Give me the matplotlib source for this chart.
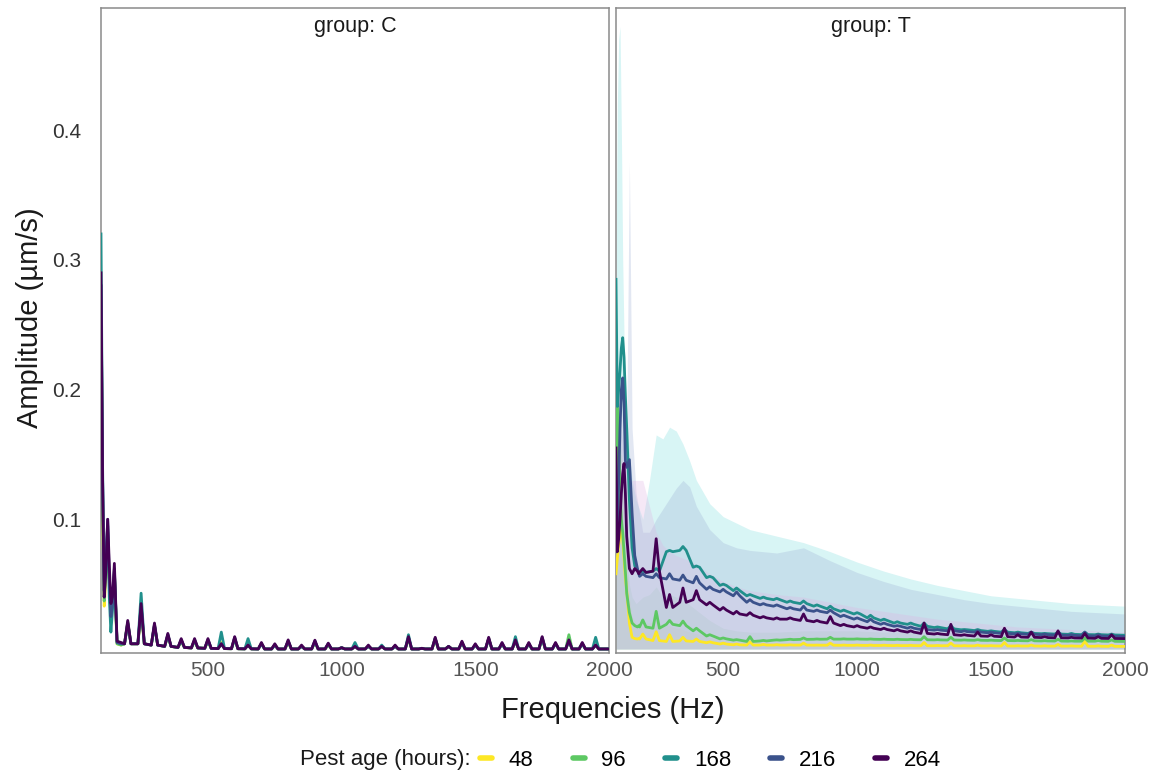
import matplotlib
matplotlib.use("Agg")
import matplotlib.pyplot as plt
from matplotlib.lines import Line2D

plt.rcParams["font.family"] = ["Liberation Sans", "DejaVu Sans"]

AGES = ["48", "96", "168", "216", "264"]
COLORS = ["#FDE725", "#5DC863", "#21908C", "#3B528B", "#440154"]
RIBBON_COLORS = ["#f5e98a", "#a8e6aa", "#7fdede", "#9fb0d6", "#e0b4e4"]

# harmonic peaks every 50 Hz
PEAK_HZ = list(range(200, 2000, 50))
PEAK_HALF_WIDTH = 12

# ---- group C -------------------------------------------------------------
C_LOW_HZ = [100, 106, 112, 118, 125, 131, 137, 143, 150, 160, 175]
C_LOW = {
    "48": [0.270, 0.110, 0.033, 0.055, 0.085, 0.050, 0.030, 0.035, 0.058, 0.004, 0.003],
    "96": [0.280, 0.120, 0.037, 0.060, 0.090, 0.055, 0.030, 0.035, 0.060, 0.004, 0.003],
    "168": [0.320, 0.140, 0.045, 0.070, 0.095, 0.040, 0.013, 0.030, 0.060, 0.005, 0.004],
    "216": [0.280, 0.130, 0.040, 0.065, 0.100, 0.055, 0.025, 0.035, 0.062, 0.005, 0.004],
    "264": [0.290, 0.130, 0.040, 0.060, 0.100, 0.065, 0.035, 0.040, 0.066, 0.006, 0.005],
}
C_FLOOR = [0.004, 0.004, 0.003, 0.002, 0.0012, 0.0008, 0.0005, 0.0003, 0.0002,
           0.0001, 0, 0, 0, 0, 0, 0, 0, 0, 0, 0, 0, 0, 0, 0, 0, 0, 0, 0, 0, 0,
           0, 0, 0, 0, 0, 0]
C_PEAKS = {
    "48": [0.020, 0.030, 0.018, 0.010, 0.006, 0.006, 0.006, 0.005, 0.008,
           0.003, 0.004, 0.003, 0.005, 0.002, 0.005, 0.003, 0.001,
           0.002, 0.002, 0.002, 0.002, 0.008, 0.0005, 0.007, 0.002, 0.005, 0.003,
           0.008, 0.004, 0.006, 0.004, 0.008, 0.004, 0.006, 0.004, 0.003],
    "96": [0.021, 0.030, 0.018, 0.010, 0.006, 0.006, 0.006, 0.004, 0.008,
           0.003, 0.004, 0.003, 0.006, 0.002, 0.005, 0.003, 0.001,
           0.002, 0.002, 0.002, 0.002, 0.008, 0.0005, 0.008, 0.002, 0.005, 0.003,
           0.008, 0.004, 0.006, 0.004, 0.008, 0.004, 0.011, 0.004, 0.003],
    "168": [0.020, 0.043, 0.018, 0.011, 0.007, 0.007, 0.007, 0.013, 0.008,
            0.008, 0.004, 0.003, 0.006, 0.002, 0.006, 0.004, 0.001,
            0.005, 0.002, 0.003, 0.002, 0.011, 0.0005, 0.008, 0.002, 0.005, 0.003,
            0.008, 0.004, 0.0095, 0.004, 0.008, 0.004, 0.006, 0.004, 0.009],
    "216": [0.020, 0.033, 0.019, 0.011, 0.007, 0.007, 0.007, 0.004, 0.009,
            0.003, 0.004, 0.003, 0.006, 0.002, 0.006, 0.004, 0.001,
            0.002, 0.002, 0.002, 0.002, 0.009, 0.0005, 0.008, 0.002, 0.005, 0.003,
            0.008, 0.004, 0.006, 0.004, 0.009, 0.004, 0.006, 0.004, 0.003],
    "264": [0.022, 0.035, 0.020, 0.012, 0.008, 0.008, 0.008, 0.004, 0.0095,
            0.003, 0.005, 0.004, 0.007, 0.003, 0.0068, 0.0045, 0.001,
            0.002, 0.003, 0.002, 0.003, 0.0095, 0.0005, 0.009, 0.002, 0.006, 0.004,
            0.009, 0.005, 0.007, 0.005, 0.0095, 0.005, 0.007, 0.005, 0.003],
}
C_END = {"48": 0.0, "96": 0.0, "168": 0.0, "216": 0.0, "264": 0.0}

# ---- group T -------------------------------------------------------------
T_LOW_HZ = [100, 105, 110, 115, 120, 125, 130, 135, 140, 150, 160, 170, 180, 185]
T_LOW = {
    "48": [0.058, 0.070, 0.080, 0.088, 0.092, 0.085, 0.070, 0.055, 0.045, 0.020, 0.009, 0.008, 0.0077, 0.008],
    "96": [0.120, 0.190, 0.170, 0.120, 0.100, 0.090, 0.075, 0.060, 0.043, 0.028, 0.020, 0.018, 0.017, 0.018],
    "168": [0.285, 0.187, 0.200, 0.215, 0.232, 0.240, 0.225, 0.195, 0.170, 0.115, 0.078, 0.064, 0.061, 0.059],
    "216": [0.075, 0.090, 0.130, 0.170, 0.200, 0.209, 0.190, 0.145, 0.140, 0.146, 0.105, 0.072, 0.062, 0.058],
    "264": [0.155, 0.075, 0.085, 0.100, 0.120, 0.135, 0.143, 0.120, 0.087, 0.062, 0.058, 0.062, 0.060, 0.058],
}
T_FLOOR = {
    "48": [0.0077, 0.0065, 0.0058, 0.0062, 0.0058, 0.0048, 0.0038, 0.0032, 0.003,
           0.003, 0.003, 0.003, 0.003, 0.0029, 0.0029, 0.0028, 0.0028,
           0.0027, 0.0027, 0.0026, 0.0026, 0.0025, 0.0025, 0.0025, 0.0024, 0.0024, 0.0024,
           0.0023, 0.0023, 0.0023, 0.0022, 0.0022, 0.0022, 0.0021, 0.0021, 0.002],
    "96": [0.017, 0.016, 0.019, 0.018, 0.014, 0.010, 0.0078, 0.0068, 0.0058,
           0.0062, 0.0068, 0.0072, 0.0074, 0.0075, 0.0076, 0.0076, 0.0076,
           0.0075, 0.0074, 0.0073, 0.0072, 0.0071, 0.007, 0.0069, 0.0068, 0.0067, 0.0066,
           0.0065, 0.0064, 0.0063, 0.0062, 0.0061, 0.006, 0.006, 0.006, 0.0059],
    "168": [0.059, 0.060, 0.075, 0.076, 0.063, 0.055, 0.049, 0.045, 0.041,
            0.039, 0.038, 0.036, 0.035, 0.033, 0.031, 0.029, 0.027,
            0.024, 0.022, 0.020, 0.019, 0.0175, 0.0165, 0.0155, 0.0148, 0.0142, 0.0136,
            0.013, 0.0125, 0.012, 0.0118, 0.0115, 0.0113, 0.0111, 0.011, 0.0108],
    "216": [0.056, 0.055, 0.054, 0.053, 0.051, 0.046, 0.044, 0.041, 0.036,
            0.034, 0.033, 0.031, 0.030, 0.029, 0.028, 0.025, 0.023,
            0.021, 0.019, 0.0175, 0.016, 0.015, 0.0145, 0.014, 0.0133, 0.013, 0.0125,
            0.012, 0.0117, 0.0113, 0.011, 0.0107, 0.0105, 0.0102, 0.010, 0.0098],
    "264": [0.059, 0.060, 0.032, 0.036, 0.038, 0.034, 0.030, 0.027, 0.026,
            0.024, 0.023, 0.023, 0.022, 0.021, 0.020, 0.018, 0.017,
            0.016, 0.015, 0.014, 0.013, 0.012, 0.0115, 0.011, 0.0105, 0.010, 0.0098,
            0.0095, 0.0092, 0.009, 0.0088, 0.0086, 0.0085, 0.0084, 0.0082, 0.0081],
}
T_PEAKS = {
    "48": [0.0115, 0.0133, 0.011, 0.009, 0.0077, 0.0055, 0.0045, 0.0038, 0.0055,
           0.0035, 0.0033, 0.0032, 0.0045, 0.003, 0.0045, 0.003, 0.003,
           0.003, 0.0029, 0.0028, 0.0028, 0.005, 0.0027, 0.0045, 0.0026, 0.003, 0.0026,
           0.005, 0.0025, 0.003, 0.0025, 0.0035, 0.0024, 0.006, 0.0024, 0.003],
    "96": [0.0224, 0.029, 0.022, 0.0215, 0.016, 0.011, 0.0085, 0.0072, 0.0095,
           0.0066, 0.007, 0.0075, 0.0085, 0.0077, 0.009, 0.0078, 0.0078,
           0.0077, 0.0076, 0.0075, 0.0074, 0.0095, 0.0072, 0.009, 0.007, 0.0072, 0.0068,
           0.0085, 0.0066, 0.0072, 0.0064, 0.0075, 0.0062, 0.0085, 0.0065, 0.007],
    "168": [0.060, 0.062, 0.076, 0.079, 0.064, 0.056, 0.050, 0.047, 0.042,
            0.040, 0.039, 0.037, 0.037, 0.034, 0.033, 0.030, 0.028,
            0.026, 0.023, 0.021, 0.020, 0.020, 0.017, 0.018, 0.015, 0.015, 0.014,
            0.015, 0.013, 0.013, 0.012, 0.013, 0.012, 0.013, 0.0115, 0.0115],
    "216": [0.058, 0.058, 0.058, 0.057, 0.056, 0.048, 0.046, 0.044, 0.038,
            0.035, 0.034, 0.032, 0.033, 0.030, 0.030, 0.026, 0.024,
            0.023, 0.020, 0.018, 0.017, 0.018, 0.015, 0.017, 0.014, 0.014, 0.013,
            0.015, 0.012, 0.013, 0.0115, 0.013, 0.011, 0.013, 0.011, 0.0105],
    "264": [0.062, 0.085, 0.042, 0.047, 0.045, 0.036, 0.032, 0.029, 0.028,
            0.025, 0.024, 0.024, 0.027, 0.022, 0.025, 0.019, 0.018,
            0.017, 0.016, 0.015, 0.014, 0.020, 0.012, 0.019, 0.011, 0.013, 0.011,
            0.016, 0.011, 0.013, 0.0095, 0.014, 0.009, 0.012, 0.0095, 0.011],
}
T_END = {"48": 0.002, "96": 0.0058, "168": 0.0106, "216": 0.0096, "264": 0.008}

# upper edge of the spread bands in group T
T_RIB_HZ = [100, 105, 110, 115, 120, 125, 130, 140, 150, 160, 175,
            200, 225, 250, 275, 300, 325, 350, 375, 400, 450, 500, 550, 600,
            700, 800, 900, 1000, 1100, 1200, 1300, 1400, 1500, 1600, 1700, 1800, 1900, 2000]
T_RIB_UP = {
    "48": [0.09, 0.12, 0.14, 0.15, 0.15, 0.13, 0.11, 0.07, 0.04, 0.025, 0.02,
           0.02, 0.02, 0.022, 0.018, 0.018, 0.016, 0.015, 0.013, 0.012,
           0.009, 0.007, 0.006, 0.006, 0.005, 0.005, 0.005, 0.005, 0.005,
           0.005, 0.004, 0.004, 0.004, 0.004, 0.004, 0.004, 0.004, 0.004],
    "96": [0.16, 0.20, 0.21, 0.19, 0.16, 0.13, 0.10, 0.07, 0.05, 0.04, 0.035,
           0.04, 0.042, 0.048, 0.04, 0.042, 0.04, 0.04, 0.034, 0.03,
           0.022, 0.016, 0.014, 0.013, 0.013, 0.014, 0.014, 0.014, 0.013,
           0.013, 0.013, 0.012, 0.012, 0.012, 0.011, 0.011, 0.011, 0.011],
    "168": [0.30, 0.42, 0.47, 0.48, 0.40, 0.30, 0.24, 0.18, 0.15, 0.13, 0.115,
            0.10, 0.13, 0.165, 0.162, 0.171, 0.168, 0.158, 0.145, 0.13,
            0.112, 0.102, 0.097, 0.092, 0.087, 0.082, 0.075, 0.067, 0.060,
            0.054, 0.049, 0.045, 0.041, 0.039, 0.037, 0.035, 0.034, 0.033],
    "216": [0.09, 0.11, 0.14, 0.16, 0.17, 0.16, 0.15, 0.17, 0.375, 0.17, 0.12,
            0.09, 0.09, 0.10, 0.108, 0.116, 0.124, 0.13, 0.125, 0.11,
            0.092, 0.082, 0.078, 0.076, 0.074, 0.078, 0.068, 0.059, 0.052,
            0.046, 0.042, 0.038, 0.035, 0.033, 0.031, 0.029, 0.028, 0.027],
    "264": [0.14, 0.17, 0.19, 0.20, 0.19, 0.17, 0.15, 0.14, 0.13, 0.13, 0.13,
            0.13, 0.11, 0.09, 0.08, 0.075, 0.072, 0.07, 0.068, 0.065,
            0.058, 0.052, 0.048, 0.045, 0.042, 0.040, 0.036, 0.032, 0.029,
            0.026, 0.023, 0.021, 0.019, 0.017, 0.016, 0.015, 0.014, 0.013],
}


def spectrum(low_hz, low_vals, floors, peaks, end_val):
    """Join the low-frequency part and the 50 Hz harmonic peaks into one trace."""
    hz = list(low_hz)
    amp = list(low_vals)
    for f, fl, pk in zip(PEAK_HZ, floors, peaks):
        hz += [f - PEAK_HALF_WIDTH, f, f + PEAK_HALF_WIDTH]
        amp += [fl, pk, fl]
    hz.append(2000)
    amp.append(end_val)
    return hz, amp


W, H = 1158, 775
fig = plt.figure(figsize=(W / 100, H / 100), dpi=100)
ax_c = fig.add_axes([101 / W, 1 - 653 / H, 508 / W, 645 / H])
ax_t = fig.add_axes([616 / W, 1 - 653 / H, 509 / W, 645 / H])

# group C
for age, col in zip(AGES, COLORS):
    hz, amp = spectrum(C_LOW_HZ, C_LOW[age], C_FLOOR, C_PEAKS[age], C_END[age])
    ax_c.plot(hz, amp, color=col, lw=2.0, solid_joinstyle="round", zorder=3)

# group T: bands first, lines on top
for age, col in zip(AGES, RIBBON_COLORS):
    ax_t.fill_between(T_RIB_HZ, 0, T_RIB_UP[age], color=col, alpha=0.3, lw=0, zorder=1)
for age, col in zip(AGES, COLORS):
    hz, amp = spectrum(T_LOW_HZ, T_LOW[age], T_FLOOR[age], T_PEAKS[age], T_END[age])
    ax_t.plot(hz, amp, color=col, lw=2.0, solid_joinstyle="round", zorder=3)

for ax, label in [(ax_c, "group: C"), (ax_t, "group: T")]:
    ax.set_xlim(100, 2000)
    ax.set_ylim(-0.0031, 0.4942)
    ax.set_xticks([500, 1000, 1500, 2000])
    ax.set_yticks([0.1, 0.2, 0.3, 0.4])
    ax.tick_params(length=0, labelsize=15, colors="#555555", pad=6)
    ax.tick_params(axis="y", colors="#333333", pad=14)
    for sp in ax.spines.values():
        sp.set_color("#8a8a8a")
        sp.set_linewidth(1.1)
    ax.text(0.5, 0.972, label, transform=ax.transAxes, ha="center", va="center",
            fontsize=15.5, color="#1a1a1a")
ax_t.tick_params(axis="y", labelleft=False)

fig.text(613 / W, 1 - 710 / H, "Frequencies (Hz)", ha="center", va="center",
         fontsize=21, color="#1a1a1a")
fig.text(30 / W, 1 - 318 / H, "Amplitude (µm/s)", ha="center", va="center",
         rotation=90, fontsize=21, color="#1a1a1a")

# legend along the bottom
fig.text(300 / W, 1 - 760 / H, "Pest age (hours):", ha="left", va="center",
         fontsize=16, color="#1a1a1a")
handles = [Line2D([], [], color=c, lw=4, solid_capstyle="round") for c in COLORS]
fig.legend(handles, AGES, loc="center left", bbox_to_anchor=(480 / W, 1 - 760 / H),
           ncol=5, frameon=False, fontsize=16, handlelength=0.55, handletextpad=0.75,
           columnspacing=1.75, borderaxespad=0, borderpad=0)

fig.savefig("out.png", dpi=100)
